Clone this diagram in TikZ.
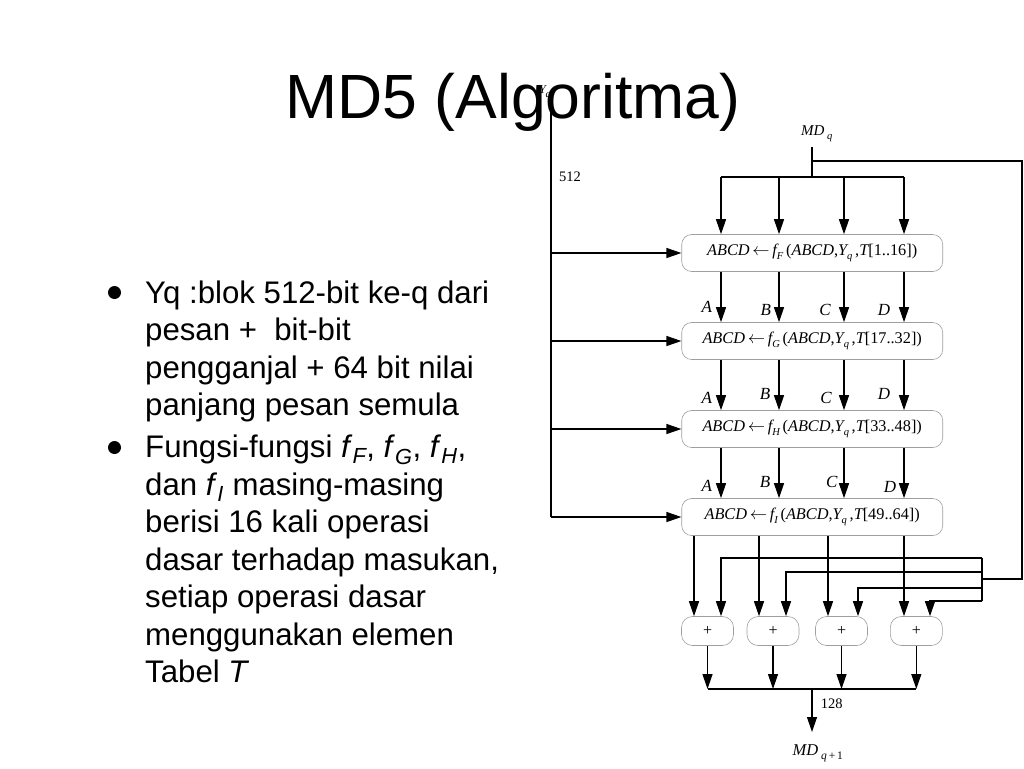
\documentclass[tikz,border=0pt]{standalone}
\usepackage{fontspec}
\setmainfont{Liberation Sans}
\newfontfamily\tms{Liberation Serif}
\usetikzlibrary{arrows.meta}
\newcommand\lsub[1]{\raisebox{-4pt}{\fontsize{10.5}{11}\selectfont\itshape #1}}
\newcommand\fbtext[2]{{\itshape ABCD}\,$\leftarrow$\,{\itshape f}\lsub{#1}\,({\itshape ABCD},{\itshape Y}\lsub{q}\,,{\itshape T}[#2])}
\begin{document}
\begin{tikzpicture}[x=1pt,y=-1pt,
  ln/.style={line width=1.2pt},
  arr/.style={line width=1.2pt,-{Triangle[length=15pt,width=10pt]}},
  fbox/.style={draw=gray!75,line width=0.6pt,rounded corners=10pt,minimum width=261pt,minimum height=37pt,inner sep=0pt,font=\fontsize{16.3}{18}\selectfont\tms},
  pbox/.style={draw=gray!75,line width=0.6pt,rounded corners=11pt,minimum width=52pt,minimum height=29pt,inner sep=0pt,font=\fontsize{16}{18}\selectfont\tms},
  lab/.style={font=\fontsize{17}{18}\selectfont\tms\itshape,inner sep=0pt},
  num/.style={font=\fontsize{14.5}{16}\selectfont\tms,inner sep=0pt},
  btxt/.style={anchor=base west,inner sep=0pt,font=\fontsize{31.2}{37.5}\selectfont},
  bdot/.style={circle,fill=black,inner sep=0pt,minimum size=13pt}
]
\path[use as bounding box] (0,0) rectangle (1024,768);
\fill[white] (0,0) rectangle (1024,768);

% ---- bullet text ----
\node[bdot] (dot1) at (114.5,292.5) {};
\node[btxt] (l1) at (145,303) {Yq :blok 512-bit ke-q dari};
\node[btxt] (l2) at (145,340.5) {pesan +\ \ bit-bit};
\node[btxt] (l3) at (145,378) {pengganjal + 64 bit nilai};
\node[btxt] (l4) at (145,415.5) {panjang pesan semula};
\node[bdot] (dot2) at (114.5,447.5) {};
\node[btxt] (m1) at (145,457.5) {Fungsi-fungsi \textit{f}\textsubscript{\itshape F}, \textit{f}\textsubscript{\itshape G}, \textit{f}\textsubscript{\itshape H},};
\node[btxt] (m2) at (145,495) {dan \textit{f}\textsubscript{\itshape I} masing-masing};
\node[btxt] (m3) at (145,532.5) {berisi 16 kali operasi};
\node[btxt] (m4) at (145,570) {dasar terhadap masukan,};
\node[btxt] (m5) at (145,607.5) {setiap operasi dasar};
\node[btxt] (m6) at (145,645) {menggunakan elemen};
\node[btxt] (m7) at (145,682.5) {Tabel \textit{T}};

% ---- diagram ----
\node[lab,font=\fontsize{12}{14}\selectfont\tms\itshape] (yq) at (545,93) {Y\lsub{q}};
\coordinate (ytop) at (551,100);
\coordinate (ybot) at (551,517);
\node[num] (n512) at (570,177) {512};

\node[fbox] (b1) at (812.2,253) {\fbtext{F}{1..16}};
\node[fbox] (b2) at (812.2,341) {\fbtext{G}{17..32}};
\node[fbox] (b3) at (812.2,429) {\fbtext{H}{33..48}};
\node[fbox] (b4) at (812.2,517) {\fbtext{I}{49..64}};

\node[lab,anchor=base west,font=\fontsize{15}{16}\selectfont\tms\itshape] (mdq) at (801,135.5) {MD\,\lsub{q}};
\coordinate (mdl) at (812,147);
\coordinate (split) at (812,161);
\coordinate (dist) at (812,177);
\coordinate (fr1) at (1022,161);
\coordinate (fr2) at (1022,579);
\coordinate (bus) at (982,579);
\coordinate (d1) at (721,177);
\coordinate (d2) at (779,177);
\coordinate (d3) at (844,177);
\coordinate (d4) at (904,177);

\draw[ln] (mdl) -- (dist);
\draw[ln] (d1) -- (d4);
\foreach \i in {1,2,3,4}{
  \draw[arr] (d\i) -- (d\i |- b1.north);
  \draw[arr] (d\i |- b1.south) -- (d\i |- b2.north);
  \draw[arr] (d\i |- b2.south) -- (d\i |- b3.north);
  \draw[arr] (d\i |- b3.south) -- (d\i |- b4.north);
}
\draw[ln] (ytop) -- (ybot);
\draw[arr] (ytop |- b1.west) -- (b1.west);
\draw[arr] (ytop |- b2.west) -- (b2.west);
\draw[arr] (ytop |- b3.west) -- (b3.west);
\draw[arr] (ybot) -- (b4.west);

% A B C D labels
\node[lab] (a2) at (706.7,306.7) {A};
\node[lab] (bb2) at (765.7,310) {B};
\node[lab] (c2) at (825,310) {C};
\node[lab] (dd2) at (884,310) {D};
\node[lab] (a3) at (706.7,398.3) {A};
\node[lab] (bb3) at (765,394.3) {B};
\node[lab] (c3) at (826,397.7) {C};
\node[lab] (dd3) at (884,394.3) {D};
\node[lab] (a4) at (706.7,486) {A};
\node[lab] (bb4) at (765,482.3) {B};
\node[lab] (c4) at (831.7,481.7) {C};
\node[lab] (dd4) at (890,486.7) {D};

% plus boxes
\node[pbox] (p1) at (707.5,631) {+};
\node[pbox] (p2) at (773,631) {+};
\node[pbox] (p3) at (841.5,631) {+};
\node[pbox] (p4) at (916.3,631) {+};

\coordinate (o1) at (694,535);
\coordinate (o2) at (759,535);
\coordinate (o3) at (828,535);
\coordinate (o4) at (904,535);
\draw[arr] (o1 |- b4.south) -- (o1 |- p1.north);
\draw[arr] (o2 |- b4.south) -- (o2 |- p2.north);
\draw[arr] (o3 |- b4.south) -- (o3 |- p3.north);
\draw[arr] (o4 |- b4.south) -- (o4 |- p4.north);

% feedback
\coordinate (f1) at (982,558);
\coordinate (f2) at (982,572);
\coordinate (f3) at (982,588);
\coordinate (f4) at (982,601);
\coordinate (t1) at (721,558);
\coordinate (t2) at (786,572);
\coordinate (t3) at (858,588);
\coordinate (t4) at (930,601);
\draw[ln] (split) -- (fr1) -- (fr2) -- (bus);
\draw[ln] (f1) -- (f4);
\draw[arr] (f1) -- (t1) -- (t1 |- p1.north);
\draw[arr] (f2) -- (t2) -- (t2 |- p2.north);
\draw[arr] (f3) -- (t3) -- (t3 |- p3.north);
\draw[arr] (f4) -- (t4) -- (t4 |- p4.north);

% sum
\coordinate (sum) at (812,689);
\coordinate (out) at (812,732);
\draw[arr] (p1.south) -- (p1.south |- sum);
\draw[arr] (p2.south) -- (p2.south |- sum);
\draw[arr] (p3.south) -- (p3.south |- sum);
\draw[arr] (p4.south) -- (p4.south |- sum);
\draw[ln] (p1.south |- sum) -- (p4.south |- sum);
\draw[arr] (sum) -- (out);
\node[num] (n128) at (831.7,703.3) {128};
\node[lab,anchor=base west,font=\fontsize{16.5}{18}\selectfont\tms\itshape] (mdq1) at (792.5,755) {MD\,\raisebox{-4.5pt}{\fontsize{11.5}{12}\selectfont\itshape q\upshape\,+\,1}};

% title
\node[anchor=base,inner sep=0pt,font=\fontsize{62.5}{70}\selectfont] (title) at (513,118.3) {MD5 (Algoritma)};
\end{tikzpicture}
\end{document}
